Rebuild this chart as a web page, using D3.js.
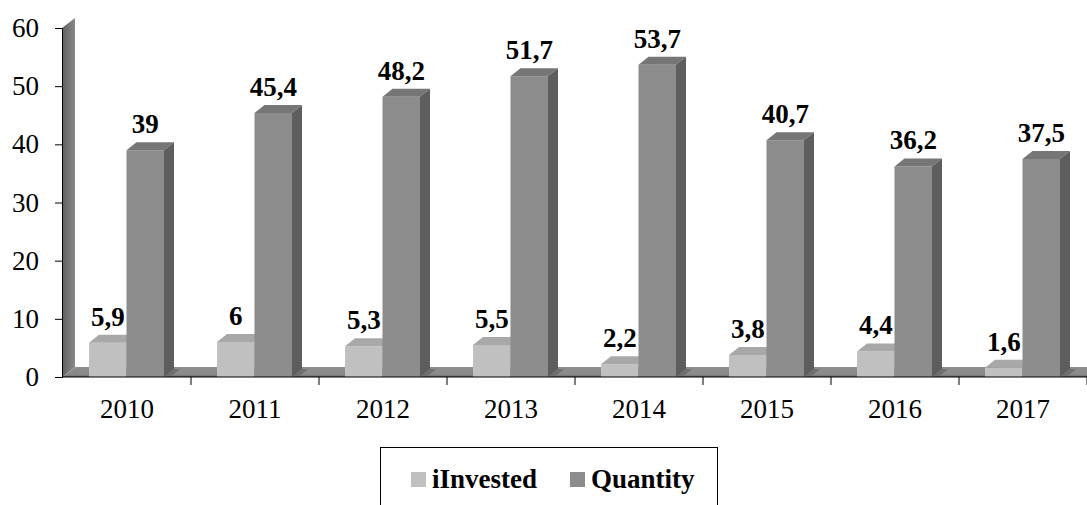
<!DOCTYPE html>
<html>
<head>
<meta charset="utf-8">
<script src="https://cdn.jsdelivr.net/npm/d3@7/dist/d3.min.js"></script>
<style>
  html, body { margin: 0; padding: 0; background: #fff; }
  svg { display: block; }
  text { font-family: "Liberation Serif", "Times New Roman", serif; fill: #000; }
</style>
</head>
<body>
<svg id="chart" width="1087" height="505"></svg>
<script>
// Chart data
const years = ["2010", "2011", "2012", "2013", "2014", "2015", "2016", "2017"];
const invested = [5.9, 6, 5.3, 5.5, 2.2, 3.8, 4.4, 1.6];
const quantity = [39, 45.4, 48.2, 51.7, 53.7, 40.7, 36.2, 37.5];
const seriesNames = ["iInvested", "Quantity"];
const yTicks = [0, 10, 20, 30, 40, 50, 60];

(function () {
const svg = d3.select("#chart");
const W = 1087;

// Plot frame
const plotLeft = 62, plotRight = 1087, plotTop = 28, base = 377;

const x = d3.scaleBand().domain(years).range([plotLeft + 1, plotRight]);
const xs = d3.scaleBand().domain(seriesNames).range([26, 101]);
const y = d3.scaleLinear().domain([0, 60]).range([base, plotTop]);

// 3D depth offsets
const wall = { dx: 13, dy: -10 };
const bar = { dx: 10, dy: -8 };

const colors = {
  iInvested: { front: "#c0c0c0", top: "#a8a8a8", side: "#8e8e8e" },
  Quantity:  { front: "#8c8c8c", top: "#767676", side: "#5e5e5e" }
};

const defs = svg.append("defs");
const wg = defs.append("linearGradient").attr("id", "wallGrad")
  .attr("x1", 0).attr("x2", 1).attr("y1", 0).attr("y2", 0);
wg.append("stop").attr("offset", "0%").attr("stop-color", "#5e5e5e");
wg.append("stop").attr("offset", "100%").attr("stop-color", "#8a8a8a");

const fg = defs.append("linearGradient").attr("id", "floorGrad")
  .attr("x1", 0).attr("x2", 0).attr("y1", 0).attr("y2", 1);
fg.append("stop").attr("offset", "0%").attr("stop-color", "#8e8e8e");
fg.append("stop").attr("offset", "80%").attr("stop-color", "#888888");
fg.append("stop").attr("offset", "100%").attr("stop-color", "#555555");

const poly = pts => "M" + pts.map(p => p.join(",")).join("L") + "Z";

// Side wall
svg.append("path")
  .attr("d", poly([[plotLeft, y(60)], [plotLeft + wall.dx, y(60) + wall.dy],
                   [plotLeft + wall.dx, base + wall.dy], [plotLeft, base]]))
  .attr("fill", "url(#wallGrad)");

// Floor
svg.append("path")
  .attr("d", poly([[plotLeft, base], [plotLeft + wall.dx, base + wall.dy],
                   [plotRight + 20, base + wall.dy], [plotRight + 20, base]]))
  .attr("fill", "url(#floorGrad)");

// Bars
const rows = years.map((yr, i) => ({ year: yr, values: [
  { name: "iInvested", v: invested[i] },
  { name: "Quantity", v: quantity[i] }
]}));

const groups = svg.append("g").selectAll("g").data(rows).join("g")
  .attr("transform", d => `translate(${x(d.year)},0)`);

groups.each(function (d) {
  const g = d3.select(this);
  // shadow cast on the floor by the rear bar
  const xq = xs("Quantity") + xs.bandwidth();
  g.append("path").attr("d", poly([[xq, base], [xq + bar.dx, base + bar.dy],
      [xq + bar.dx + 6, base + bar.dy], [xq + 6, base]]))
    .attr("fill", "#6f6f6f");
  d.values.forEach(s => {
    const x0 = xs(s.name), w = xs.bandwidth();
    const yt = y(s.v), c = colors[s.name];
    g.append("path").attr("d", poly([[x0, base], [x0, yt], [x0 + w, yt], [x0 + w, base]]))
      .attr("fill", c.front);
    g.append("path").attr("d", poly([[x0, yt], [x0 + bar.dx, yt + bar.dy],
        [x0 + w + bar.dx, yt + bar.dy], [x0 + w, yt]]))
      .attr("fill", c.top);
    g.append("path").attr("d", poly([[x0 + w, yt], [x0 + w + bar.dx, yt + bar.dy],
        [x0 + w + bar.dx, base + bar.dy], [x0 + w, base]]))
      .attr("fill", c.side);
  });
  d.values.forEach(s => {
    g.append("text")
      .attr("x", xs(s.name) + xs.bandwidth() / 2)
      .attr("y", y(s.v) - 17)
      .attr("text-anchor", "middle")
      .attr("font-size", 27).attr("font-weight", "bold")
      .text(String(s.v).replace(".", ","));
  });
});

// Y axis
const yAxis = svg.append("g").attr("transform", `translate(${plotLeft},0)`)
  .call(d3.axisLeft(y).tickValues(yTicks).tickSize(7).tickPadding(16));
yAxis.selectAll("text").attr("font-size", 27).attr("font-family", "Liberation Serif");
yAxis.selectAll("line, path").attr("stroke", "#000");

// X axis, ticks on category boundaries
const xAxis = svg.append("g").attr("transform", `translate(0,${base})`)
  .call(d3.axisBottom(x).tickSize(0).tickPadding(22));
xAxis.select(".domain").remove();
xAxis.selectAll("text").attr("font-size", 27).attr("font-family", "Liberation Serif");
svg.append("line").attr("x1", plotLeft).attr("x2", W).attr("y1", base).attr("y2", base)
  .attr("stroke", "#000");
svg.append("g").selectAll("line").data(years)
  .join("line")
  .attr("x1", (d, i) => x.range()[0] + x.step() * (i + 1))
  .attr("x2", (d, i) => x.range()[0] + x.step() * (i + 1))
  .attr("y1", base).attr("y2", base + 8).attr("stroke", "#000");

// Legend
const lg = svg.append("g");
lg.append("rect").attr("x", 380.5).attr("y", 447.5).attr("width", 337).attr("height", 80)
  .attr("fill", "#fff").attr("stroke", "#000");
const legendX = [411, 570];
seriesNames.forEach((n, i) => {
  lg.append("rect").attr("x", legendX[i]).attr("y", 472).attr("width", 15).attr("height", 15)
    .attr("fill", colors[n].front);
  lg.append("text").attr("x", legendX[i] + 21).attr("y", 488)
    .attr("font-size", 27).attr("font-weight", "bold").text(n);
});
})();
</script>
</body>
</html>
